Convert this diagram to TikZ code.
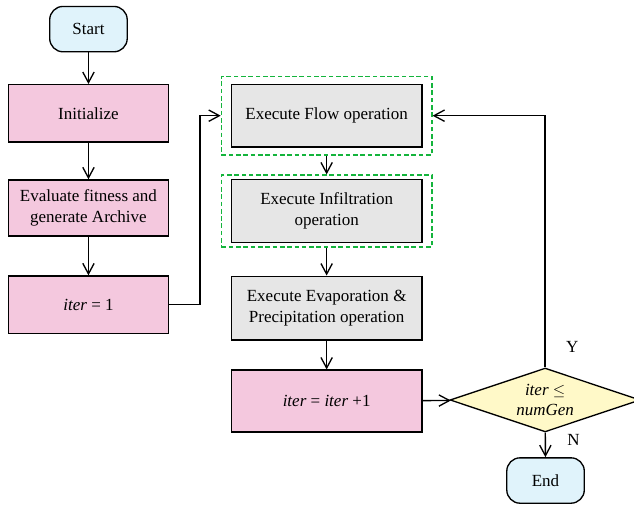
\documentclass[tikz,border=0pt]{standalone}
\usepackage{fontspec}
\setmainfont{Liberation Serif}
\definecolor{termblue}{RGB}{224, 243, 251}
\definecolor{steppink}{RGB}{244, 200, 222}
\definecolor{opgray}{RGB}{230, 230, 230}
\definecolor{decyellow}{RGB}{255, 249, 200}
\definecolor{dashgreen}{RGB}{20, 180, 60}
\usetikzlibrary{shapes, arrows.meta, positioning, calc, fit}

\begin{document}
\begin{tikzpicture}[
    font=\fontsize{12.8}{15.5}\selectfont,
    terminal/.style={draw, line width=1pt, rounded corners=10pt, fill=termblue, minimum width=2.05cm, minimum height=1.2cm, align=center},
    pinkbox/.style={draw, line width=1pt, fill=steppink, minimum width=4.23cm, minimum height=1.52cm, align=center},
    graybox/.style={draw, line width=1pt, fill=opgray, minimum width=5.05cm, minimum height=1.66cm, align=center},
    greenframe/.style={draw=dashgreen, line width=1.1pt, dash pattern=on 3.5pt off 2pt, inner xsep=0.24cm},
    decision/.style={draw, line width=1pt, diamond, aspect=3, fill=decyellow, minimum width=5.03cm, minimum height=1.69cm, inner sep=0pt, align=center},
    flow/.style={line width=1pt, -{Straight Barb[length=2.8mm, width=3mm]}}
  ]
  \useasboundingbox (0,0) rectangle (16.77,-13.44);

  % Left column
  \node[terminal] (start) at (2.34, -0.77) {Start};
  \node[pinkbox] (init) at (2.34, -3.00) {Initialize};
  \node[pinkbox, minimum height=1.48cm] (eval) at (2.34, -5.50) {Evaluate fitness and\\generate Archive};
  \node[pinkbox] (iterone) at (2.34, -8.06) {\textit{iter} = 1};

  % Middle column
  \node[graybox] (flowop) at (8.64, -3.06) {Execute Flow operation};
  \node[greenframe, inner ysep=0.19cm, fit=(flowop)] (gflow) {};
  \node[graybox] (infil) at (8.64, -5.58) {Execute Infiltration\\operation};
  \node[greenframe, inner ysep=0.1cm, fit=(infil)] (ginfil) {};
  \node[graybox, minimum height=1.69cm] (evap) at (8.64, -8.15) {Execute Evaporation \&\\Precipitation operation};
  \node[pinkbox, minimum width=5.05cm, minimum height=1.64cm] (iterinc) at (8.64, -10.61) {\textit{iter} = \textit{iter} +1};

  % Right column
  \node[decision] (check) at (14.42, -10.58) {\textit{iter} $\leq$\\\textit{numGen}};
  \node[terminal] (stop) at (14.43, -12.71) {End};

  \coordinate (bend) at (5.29, 0);

  % Arrows
  \draw[flow] (start) -- (init);
  \draw[flow] (init) -- (eval);
  \draw[flow] (eval) -- (iterone);
  \draw[flow] (iterone.east) -| (bend |- flowop) -- (gflow.west |- flowop);
  \draw[flow] (gflow) -- (ginfil);
  \draw[flow] (ginfil) -- (evap);
  \draw[flow] (evap) -- (iterinc);
  \draw[flow] (iterinc) -- (check);
  \draw[flow] (check.north) |- (gflow.east |- flowop) node[pos=0.04, right=0.42cm] {Y};
  \draw[flow] (check) -- (stop) node[pos=0.3, right=0.45cm] {N};
\end{tikzpicture}
\end{document}
